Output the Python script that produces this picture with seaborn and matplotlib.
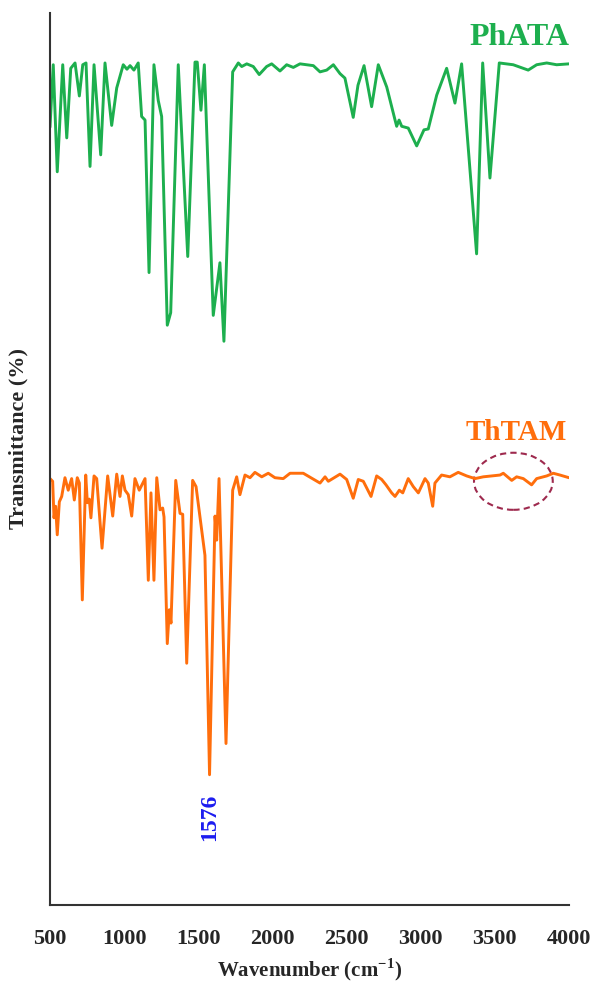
import pandas as pd
import numpy as np
import seaborn as sns
import matplotlib.pyplot as plt
from matplotlib.patches import Ellipse

# -----------------------------
# FT-IR data
# -----------------------------
phata_wn = [500, 522, 549, 586, 613, 640, 669, 698, 721, 743, 770, 797, 842, 871,
            916, 950, 994, 1019, 1040, 1066, 1095, 1118, 1141, 1168, 1201, 1230,
            1253, 1291, 1314, 1365, 1429, 1478, 1493, 1518, 1541, 1601, 1646, 1673,
            1732, 1770, 1793, 1827, 1871, 1911, 1961, 1995, 2051, 2096, 2141, 2186,
            2276, 2321, 2366, 2411, 2456, 2489, 2545, 2577, 2618, 2669, 2714, 2771,
            2827, 2838, 2854, 2872, 2916, 2973, 3022, 3051, 3108, 3175, 3231, 3276,
            3377, 3418, 3467, 3530, 3624, 3725, 3782, 3850, 3917, 4000]
phata_t = [87.2, 94.2, 82.2, 94.2, 86.0, 93.8, 94.4, 90.7, 94.2, 94.4, 82.8, 94.2, 84.1, 94.4,
           87.4, 91.6, 94.2, 93.7, 94.1, 93.6, 94.4, 88.4, 88.0, 70.9, 94.2, 90.2,
           88.4, 65.0, 66.4, 94.2, 72.7, 94.5, 94.5, 89.1, 94.2, 66.1, 72.0, 63.2,
           93.4, 94.4, 94.0, 94.3, 94.0, 93.1, 94.0, 94.3, 93.5, 94.2, 93.9, 94.3,
           94.1, 93.4, 93.6, 94.2, 93.2, 92.7, 88.3, 91.9, 94.1, 89.5, 94.2, 91.7,
           88.0, 87.3, 88.0, 87.3, 87.1, 85.1, 86.9, 87.0, 90.8, 93.8, 89.9, 94.3,
           73.0, 94.4, 81.5, 94.4, 94.2, 93.6, 94.2, 94.4, 94.2, 94.3]

thtam_wn = [500, 518, 527, 538, 549, 563, 579, 601, 623, 646, 664, 684, 698, 718,
            741, 752, 765, 776, 797, 815, 851, 889, 923, 950, 972, 988, 1006, 1028,
            1051, 1073, 1102, 1141, 1163, 1181, 1201, 1220, 1242, 1260, 1269, 1291,
            1305, 1316, 1348, 1377, 1395, 1422, 1462, 1485, 1545, 1576, 1613, 1624,
            1640, 1687, 1732, 1759, 1781, 1815, 1849, 1882, 1928, 1972, 2017, 2073,
            2119, 2208, 2321, 2355, 2377, 2456, 2501, 2545, 2579, 2613, 2665, 2703,
            2737, 2766, 2804, 2827, 2856, 2879, 2916, 2950, 2984, 3029, 3051, 3081,
            3096, 3141, 3197, 3253, 3310, 3366, 3422, 3479, 3535, 3557, 3614, 3647,
            3692, 3748, 3782, 3850, 3894, 3939, 4000]
thtam_t = [47.8, 47.5, 43.4, 44.7, 41.5, 45.2, 45.8, 47.9, 46.5, 47.8, 45.4, 47.9, 47.3, 34.2,
           48.2, 45.1, 45.5, 43.4, 48.1, 47.8, 40.0, 48.1, 43.6, 48.3, 45.8, 48.1, 46.5, 46.0,
           43.6, 47.8, 46.5, 47.8, 36.4, 46.2, 36.4, 47.9, 44.3, 44.5, 43.5, 29.3,
           33.1, 31.6, 47.6, 43.9, 43.8, 27.1, 47.6, 46.9, 39.2, 14.6, 43.6, 40.9,
           47.8, 18.1, 46.5, 48.0, 46.0, 48.2, 47.9, 48.5, 48.0, 48.4, 47.9, 47.8,
           48.4, 48.4, 47.3, 48.0, 47.5, 48.3, 47.7, 45.6, 47.7, 47.5, 45.8, 48.1,
           47.7, 47.1, 46.2, 45.8, 46.5, 46.2, 47.8, 46.9, 46.2, 47.8, 47.3, 44.7,
           47.3, 48.2, 48.0, 48.5, 48.1, 47.8, 48.0, 48.1, 48.2, 48.4, 47.6, 48.0,
           47.8, 47.1, 47.8, 48.1, 48.4, 48.2, 47.9]

x_ticks = [500, 1000, 1500, 2000, 2500, 3000, 3500, 4000]

phata = pd.DataFrame({"wn": phata_wn, "T": phata_t})
thtam = pd.DataFrame({"wn": thtam_wn, "T": thtam_t})

green = "#1daf4e"
orange = "#ff6e0c"

# -----------------------------
# Plot
# -----------------------------
sns.set_theme(style="white")
plt.rcParams["font.family"] = ["Liberation Serif", "DejaVu Serif"]
plt.rcParams["font.weight"] = "bold"
plt.rcParams["mathtext.fontset"] = "custom"
plt.rcParams["mathtext.bf"] = "Liberation Serif:bold"
plt.rcParams["mathtext.rm"] = "Liberation Serif:bold"

fig = plt.figure(figsize=(5.93, 9.86), dpi=100)
ax = fig.add_axes([0.0843, 0.0822, 0.8752, 0.9046])

sns.lineplot(data=phata, x="wn", y="T", color=green, linewidth=2.1, ax=ax)
sns.lineplot(data=thtam, x="wn", y="T", color=orange, linewidth=2.1, ax=ax)

ax.set_xlim(500, 4000)
ax.set_ylim(0, 100)
ax.set_xticks(x_ticks)
ax.set_xticklabels([str(t) for t in x_ticks], fontsize=16, fontweight="bold")
ax.set_yticks([])
ax.tick_params(axis="x", direction="out", length=5, width=1.3, color="#333333", pad=12)

for s in ["top", "right"]:
    ax.spines[s].set_visible(False)
for s in ["left", "bottom"]:
    ax.spines[s].set_color("#333333")
    ax.spines[s].set_linewidth(1.5)

ax.set_xlabel("Wavenumber (cm$^{\\mathbf{-1}}$)", fontsize=15, fontweight="bold")
ax.xaxis.set_label_coords(0.5, -0.058)
ax.set_ylabel("Transmittance (%)", fontsize=16, fontweight="bold")
ax.yaxis.set_label_coords(-0.042, 0.5235)

ax.text(4000, 97.2, "PhATA", color=green, fontsize=23, fontweight="bold",
        ha="right", va="center")
ax.text(3985, 53.0, "ThTAM", color=orange, fontsize=21, fontweight="bold",
        ha="right", va="center")
ax.text(1576, 9.8, "1576", color="#1c1cf0", fontsize=17, fontweight="bold",
        rotation=90, ha="center", va="center")

ax.add_patch(Ellipse((3625, 47.5), 531, 6.4, fill=False, edgecolor="#9e2a4e",
                     linestyle=(0, (3, 2)), linewidth=1.5))

fig.savefig("out.png", dpi=100)
